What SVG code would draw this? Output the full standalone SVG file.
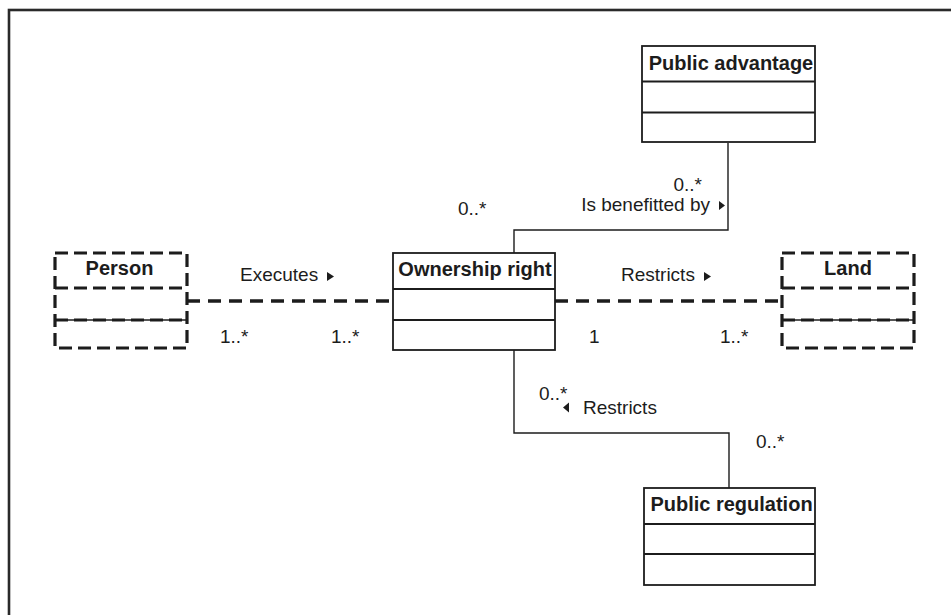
<svg xmlns="http://www.w3.org/2000/svg" width="951" height="615" viewBox="0 0 951 615">
  <style>
    .frame { fill: none; stroke: #2a2a2a; stroke-width: 2.6; }
    .box { fill: #ffffff; stroke: #1c1c1c; stroke-width: 1.8; }
    .sep { stroke: #1c1c1c; stroke-width: 1.8; }
    .dbox { fill: #ffffff; stroke: #1c1c1c; stroke-width: 3.2; stroke-dasharray: 13 6; }
    .dsep { stroke: #1c1c1c; stroke-width: 3.2; stroke-dasharray: 13 6; }
    .thin { stroke: #1c1c1c; stroke-width: 1.4; }
    .assoc { fill: none; stroke: #1c1c1c; stroke-width: 1.4; }
    .dassoc { fill: none; stroke: #1c1c1c; stroke-width: 3.4; stroke-dasharray: 13 8; }
    .title { font-family: "Liberation Sans", Arial, sans-serif; font-weight: bold; font-size: 20px; fill: #1c1c1c; text-anchor: middle; }
    .lbl { font-family: "Liberation Sans", Arial, sans-serif; font-size: 19px; fill: #1c1c1c; }
    .tri { fill: #1c1c1c; }
  </style>

  <!-- outer frame -->
  <rect class="frame" x="9" y="10" width="960" height="620"/>

  <!-- associations -->
  <g id="connectors">
    <polyline class="assoc" points="514,253 514,230 728,230 728,143"/>
    <polyline class="assoc" points="514,350 514,433 729,433 729,488"/>
    <line class="dassoc" x1="187" y1="301" x2="393" y2="301"/>
    <line class="dassoc" x1="555" y1="301" x2="782" y2="301"/>

    <!-- association names and direction marks -->
    <text class="lbl" x="240" y="281">Executes</text>
    <polygon class="tri" points="327,272 334,276.5 327,281"/>
    <text class="lbl" x="621" y="281">Restricts</text>
    <polygon class="tri" points="704,272 711,276.5 704,281"/>
    <text class="lbl" x="710" y="211" text-anchor="end">Is benefitted by</text>
    <polygon class="tri" points="719,201 725,205.5 719,210"/>
    <text class="lbl" x="583" y="414">Restricts</text>
    <polygon class="tri" points="569,402.5 563,407.5 569,412.5"/>

    <!-- multiplicities -->
    <text class="lbl" x="220" y="343">1..*</text>
    <text class="lbl" x="331" y="343">1..*</text>
    <text class="lbl" x="589" y="343">1</text>
    <text class="lbl" x="720" y="343">1..*</text>
    <text class="lbl" x="458" y="215">0..*</text>
    <text class="lbl" x="702" y="191" text-anchor="end">0..*</text>
    <text class="lbl" x="539" y="400">0..*</text>
    <text class="lbl" x="756" y="448">0..*</text>
  </g>

  <!-- classes -->
  <g id="public-advantage">
    <rect class="box" x="642" y="46" width="173" height="96"/>
    <line class="sep" x1="642" y1="81.5" x2="815" y2="81.5"/>
    <line class="sep" x1="642" y1="112.5" x2="815" y2="112.5"/>
    <text class="title" x="731" y="70">Public advantage</text>
  </g>

  <g id="ownership-right">
    <rect class="box" x="393" y="253" width="162" height="97"/>
    <line class="sep" x1="393" y1="289" x2="555" y2="289"/>
    <line class="sep" x1="393" y1="320" x2="555" y2="320"/>
    <text class="title" x="475" y="275.5">Ownership right</text>
  </g>

  <g id="public-regulation">
    <rect class="box" x="644" y="488" width="171" height="97"/>
    <line class="sep" x1="644" y1="524" x2="815" y2="524"/>
    <line class="sep" x1="644" y1="554" x2="815" y2="554"/>
    <text class="title" x="731.5" y="511">Public regulation</text>
  </g>

  <g id="person">
    <rect class="dbox" x="55" y="253" width="132" height="95"/>
    <line class="dsep" x1="55" y1="288" x2="187" y2="288"/>
    <line class="thin" x1="55" y1="320" x2="187" y2="320"/>
    <line class="dsep" x1="55" y1="320" x2="187" y2="320"/>
    <text class="title" x="119.5" y="275">Person</text>
  </g>

  <g id="land">
    <rect class="dbox" x="782" y="253" width="132" height="95"/>
    <line class="dsep" x1="782" y1="288" x2="914" y2="288"/>
    <line class="thin" x1="782" y1="320" x2="914" y2="320"/>
    <line class="dsep" x1="782" y1="320" x2="914" y2="320"/>
    <text class="title" x="848" y="275">Land</text>
  </g>
</svg>
